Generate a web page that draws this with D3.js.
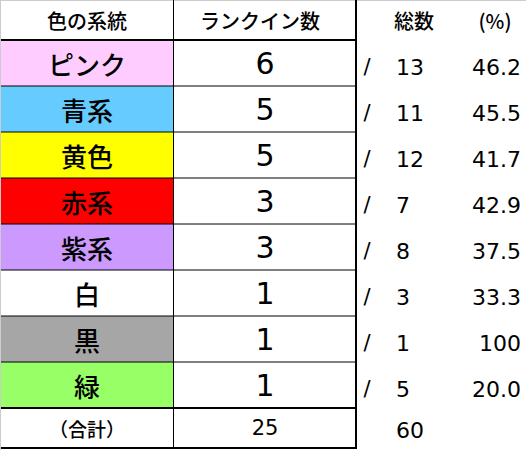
<!DOCTYPE html><html><head><meta charset="utf-8"><script src="https://cdn.jsdelivr.net/npm/d3@7"></script>
<style>body{margin:0;background:#fff}</style></head><body><script>
const categories=["ピンク","青系","黄色","赤系","紫系","白","黒","緑"];
const rankIn=[6,5,5,3,3,1,1,1];
const totals=[13,11,12,7,8,3,1,5];
const pcts=["46.2","45.5","41.7","42.9","37.5","33.3","100","20.0"];
const colors=["#ffccff","#66ccff","#ffff00","#ff0000","#cc99ff","#ffffff","#a6a6a6","#99ff66"];
const headers=["色の系統","ランクイン数","総数","(%)"];
const sumRank=25, sumTotal=60;
const W=526,H=450;
const svg=d3.select("body").append("svg").attr("width",W).attr("height",H);
const jp="'Noto Sans CJK JP',sans-serif";
const num="'DejaVu Sans',sans-serif";
const y=d3.scaleBand().domain(d3.range(8)).range([40,408]);
svg.append("line").attr("x1",0.5).attr("x2",0.5).attr("y1",0).attr("y2",H).attr("stroke","#ccc");
svg.append("line").attr("x1",0).attr("x2",W).attr("y1",0.5).attr("y2",0.5).attr("stroke","#ccc");
svg.selectAll("rect.c").data(categories).join("rect").attr("x",1).attr("y",(d,i)=>y(i)).attr("width",172).attr("height",y.bandwidth()).attr("fill",(d,i)=>colors[i]);
const g=svg.append("g").attr("stroke","#000");
d3.range(1,8).forEach(i=>g.append("line").attr("x1",1).attr("x2",356).attr("y1",y(i)).attr("y2",y(i)).attr("stroke-width",1));
g.append("line").attr("x1",1).attr("x2",357).attr("y1",40).attr("y2",40).attr("stroke-width",2);
g.append("line").attr("x1",1).attr("x2",357).attr("y1",408).attr("y2",408).attr("stroke-width",2);
g.append("line").attr("x1",1).attr("x2",357).attr("y1",448).attr("y2",448).attr("stroke-width",2);
g.append("line").attr("x1",173.5).attr("x2",173.5).attr("y1",0).attr("y2",448).attr("stroke-width",1);
g.append("line").attr("x1",356).attr("x2",356).attr("y1",0).attr("y2",449).attr("stroke-width",2);
const txt=(x,yy,s,size,anchor,weight,f)=>svg.append("text").attr("x",x).attr("y",yy).attr("text-anchor",anchor||"middle").attr("dominant-baseline","central").attr("font-family",f||jp).attr("font-size",size).attr("font-weight",weight||"normal").text(s);
txt(87,20,headers[0],20,"middle","500");txt(260,20,headers[1],20,"middle","500");txt(414,20,headers[2],20,"middle","500");txt(495,20,headers[3],20,"middle","500");
categories.forEach((c,i)=>{const cy=y(i)+y.bandwidth()/2;
 txt(87,cy,c,26,"middle","500");
 txt(265,cy,rankIn[i],30,"middle","normal",num);
 txt(367,cy+4,"/",21,"middle","normal",num);
 txt(396,cy+4,totals[i],22,"start","normal",num);
 txt(521,cy+4,pcts[i],22,"end","normal",num);});
txt(87,428,"（合計）",19,"middle","500");txt(265,428,sumRank,21,"middle","normal",num);txt(396,430,sumTotal,22,"start","normal",num);
</script></body></html>
